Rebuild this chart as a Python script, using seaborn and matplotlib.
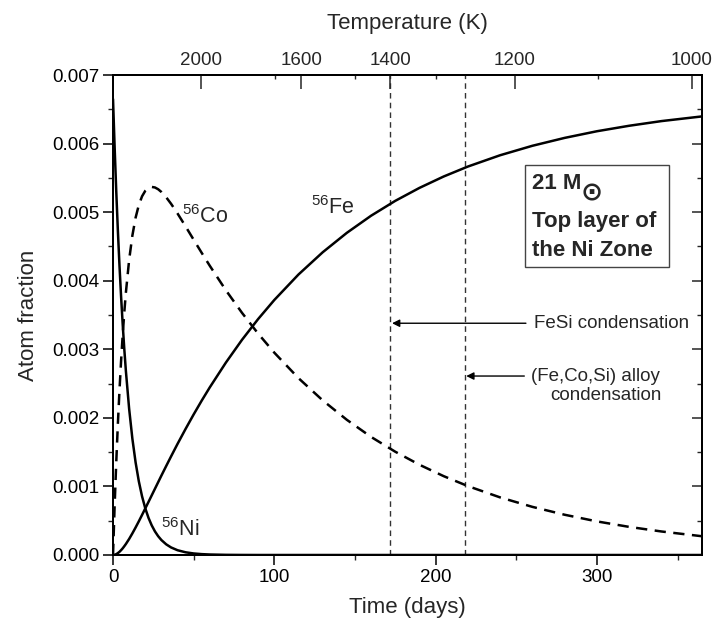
import numpy as np
import pandas as pd
import matplotlib
matplotlib.use("Agg")
import matplotlib.pyplot as plt
import seaborn as sns
from matplotlib.patches import Rectangle

# values
days = [0, 1, 2, 3, 4, 5, 6, 7, 8, 10, 12, 14, 16, 18, 20, 22, 24, 26, 28, 30,
        33, 36, 40, 45, 50, 55, 60, 70, 80, 90, 100, 115, 130, 145, 160, 175,
        190, 205, 220, 240, 260, 280, 300, 320, 340, 365]
ni56 = [0.00665, 0.005951, 0.005310, 0.004737, 0.004227, 0.003771, 0.003365,
        0.003002, 0.002678, 0.002132, 0.001697, 0.001351, 0.001075, 0.000856,
        0.000681, 0.000542, 0.000432, 0.000344, 0.000274, 0.000218, 0.000155,
        0.000110, 0.0000696, 0.0000394, 0.0000223, 0.0000126, 0.0000071,
        0.0000023, 0.0000007, 0.0, 0.0, 0.0, 0.0, 0.0, 0.0, 0.0, 0.0, 0.0,
        0.0, 0.0, 0.0, 0.0, 0.0, 0.0, 0.0, 0.0]
co56 = [0.0, 0.000716, 0.001348, 0.001905, 0.002397, 0.002829, 0.003208,
        0.003540, 0.003831, 0.004304, 0.004658, 0.004919, 0.005104, 0.005231,
        0.005311, 0.005354, 0.005368, 0.005360, 0.005334, 0.005294, 0.005216,
        0.005122, 0.004981, 0.004792, 0.004598, 0.004406, 0.004218, 0.003860,
        0.003531, 0.003228, 0.002951, 0.002579, 0.002255, 0.001971, 0.001722,
        0.001506, 0.001316, 0.001150, 0.001005, 0.000840, 0.000702, 0.000587,
        0.000490, 0.000410, 0.000343, 0.000274]
fe56 = [0.0, 0.0000033, 0.0000122, 0.0000276, 0.0000463, 0.0000703, 0.000097,
        0.000128, 0.000161, 0.000234, 0.000315, 0.000401, 0.000491, 0.000584,
        0.000679, 0.000774, 0.000870, 0.000966, 0.001062, 0.001158, 0.001299,
        0.001438, 0.001620, 0.001839, 0.002050, 0.002252, 0.002445, 0.002807,
        0.003139, 0.003442, 0.003719, 0.004091, 0.004415, 0.004699, 0.004948,
        0.005165, 0.005354, 0.005520, 0.005665, 0.005830, 0.005968, 0.006083,
        0.006180, 0.006260, 0.006328, 0.006396]

condensation_days = [172, 218]
temp_labels = ["2000", "1600", "1400", "1200", "1000"]
temp_days = [54.4, 116.7, 172, 249, 359]
temp_minor_days = [100.5, 150, 200, 300.4]

sns.set_theme(style="ticks")
plt.rcParams["font.family"] = ["Liberation Sans", "DejaVu Sans"]
plt.rcParams["mathtext.fontset"] = "custom"
plt.rcParams["mathtext.rm"] = "Liberation Sans"
plt.rcParams["mathtext.it"] = "Liberation Sans:italic"
plt.rcParams["mathtext.bf"] = "Liberation Sans:bold"

df = pd.DataFrame({"days": days, "Ni": ni56, "Co": co56, "Fe": fe56})

fig = plt.figure(figsize=(7.13, 6.19), dpi=100)
ax = fig.add_axes([0.1585, 0.1034, 0.8257, 0.7754])

sns.lineplot(data=df, x="days", y="Ni", ax=ax, color="black", lw=1.8)
sns.lineplot(data=df, x="days", y="Fe", ax=ax, color="black", lw=1.8)
sns.lineplot(data=df, x="days", y="Co", ax=ax, color="black", lw=1.8,
             linestyle=(0, (4.5, 3)))

for d in condensation_days:
    ax.axvline(d, color="#333333", lw=1.0, linestyle=(0, (4, 3)), zorder=1)

ax.set_xlim(0, 365)
ax.set_ylim(0, 0.007)
ax.set_xticks([0, 100, 200, 300])
ax.set_xticks([50, 150, 250, 350], minor=True)
ax.set_yticks(np.arange(0, 0.0071, 0.001))
ax.set_yticks(np.arange(0.0005, 0.007, 0.001), minor=True)
ax.yaxis.set_major_formatter(matplotlib.ticker.FormatStrFormatter("%.3f"))
ax.set_xlabel("Time (days)", fontsize=16, labelpad=8)
ax.set_ylabel("Atom fraction", fontsize=16, labelpad=9)
ax.tick_params(axis="both", which="major", direction="out", length=7,
               width=1.1, labelsize=13.5, pad=3, colors="black")
ax.tick_params(axis="both", which="minor", direction="out", length=3.5,
               width=1.0)
for s in ax.spines.values():
    s.set_linewidth(1.3)
    s.set_color("black")

# right-hand inward ticks
axr = ax.twinx()
axr.set_ylim(ax.get_ylim())
axr.set_yticks(ax.get_yticks())
axr.set_yticks(np.arange(0.0005, 0.007, 0.001), minor=True)
axr.tick_params(axis="y", which="major", direction="in", length=7,
                width=1.1, labelright=False)
axr.tick_params(axis="y", which="minor", direction="in", length=3.5,
                width=1.0)

# top temperature axis
axt = ax.twiny()
axt.set_xlim(ax.get_xlim())
axt.set_xticks(temp_days)
axt.set_xticklabels(temp_labels)
axt.set_xticks(temp_minor_days, minor=True)
axt.tick_params(axis="x", which="major", direction="in", length=10,
                width=1.1, labelsize=13.5, pad=4)
axt.tick_params(axis="x", which="minor", direction="in", length=3,
                width=1.0)
axt.set_xlabel("Temperature (K)", fontsize=16, labelpad=17)
for a in (axr, axt):
    for s in a.spines.values():
        s.set_linewidth(1.3)
        s.set_color("black")

# isotope labels
ax.text(43, 0.00494, "$^{56}$Co", fontsize=15.5, va="center", ha="left")
ax.text(123, 0.00506, "$^{56}$Fe", fontsize=15.5, va="center", ha="left")
ax.text(29.5, 0.000364, "$^{56}$Ni", fontsize=15.5, va="center", ha="left")

# condensation arrows
arrow = dict(arrowstyle="-|>", color="black", lw=1.0, mutation_scale=11,
             shrinkA=0, shrinkB=0)
ax.annotate("", xy=(173, 0.00338), xytext=(256, 0.00338), arrowprops=arrow)
ax.text(261, 0.00338, "FeSi condensation", fontsize=13.5, va="center")
ax.annotate("", xy=(219, 0.00261), xytext=(255, 0.00261), arrowprops=arrow)
ax.text(259, 0.00261, "(Fe,Co,Si) alloy", fontsize=13.5, va="center")
ax.text(305.5, 0.00232, "condensation", fontsize=13.5, va="center",
        ha="center")

# info box
ax.add_patch(Rectangle((255.7, 0.00420), 88.7, 0.00149, fill=True,
                       fc="white", ec="#444444", lw=1.0, zorder=3))
ax.text(259.6, 0.00542, "21 M", fontsize=16, fontweight="bold",
        va="center", zorder=4)
ax.text(297, 0.00527, "\u2299", fontsize=19, fontweight="bold",
        family="DejaVu Sans", va="center", ha="center", zorder=4)
ax.text(259.6, 0.00487, "Top layer of", fontsize=16, fontweight="bold",
        va="center", zorder=4)
ax.text(259.6, 0.00444, "the Ni Zone", fontsize=16, fontweight="bold",
        va="center", zorder=4)

fig.savefig("out.png", dpi=100)
